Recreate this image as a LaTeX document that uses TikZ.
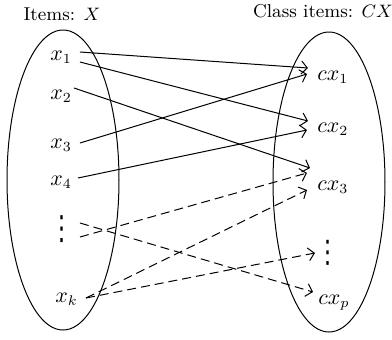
\documentclass[tikz,border=0pt]{standalone}
\usepackage{fontspec}
\usepackage{graphicx}
\newfontfamily\dotsfont{DejaVu Sans}
\usetikzlibrary{arrows.meta,shapes.geometric}
\begin{document}
\begin{tikzpicture}[x=0.5pt,y=-0.5pt,
  setell/.style={draw, ellipse, minimum width=56pt, minimum height=150pt, inner sep=0pt, line width=0.5pt},
  lab/.style={font=\fontsize{9.3}{11}\selectfont, inner sep=0pt},
  item/.style={font=\fontsize{10.5}{12}\selectfont, inner sep=0pt, anchor=base west},
  dotcol/.style={font=\dotsfont\fontsize{11.5}{14}\selectfont, inner sep=0pt, anchor=center},
  link/.style={line width=0.5pt, -{Straight Barb[length=3pt,width=6.5pt]}},
  dlink/.style={link, dash pattern=on 4.5pt off 2.5pt}
]
\useasboundingbox (0,0) rectangle (392,339);
% sets
\node[setell] (X) at (63,180) {};
\node[setell] (CX) at (329,182) {};
\node[lab] (lX) at (62,14) {Items: $X$};
\node[lab] (lCX) at (323,11) {Class items: $CX$};
% left items
\node[item] (x1) at (50,60) {$x_1$};
\node[item] (x2) at (50,99) {$x_2$};
\node[item] (x3) at (50,148) {$x_3$};
\node[item] (x4) at (50,185) {$x_4$};
\node[dotcol] (ldots) at (62,229) {\scalebox{1}[1.45]{⋮}};
\node[item] (xk) at (55,302) {$x_k$};
% right items
\node[item] (cx1) at (317,80) {$cx_1$};
\node[item] (cx2) at (317,132) {$cx_2$};
\node[item] (cx3) at (317,190) {$cx_3$};
\node[dotcol] (rdots) at (328,253) {\scalebox{1}[1.35]{⋮}};
\node[item] (cxp) at (318,304) {$cx_p$};
% connector ends
\coordinate (s1a) at (80,52);
\coordinate (s1b) at (80,62);
\coordinate (s2) at (74,88);
\coordinate (s3) at (80,143);
\coordinate (s4) at (78,178);
\coordinate (sdu) at (80,223);
\coordinate (sdl) at (80,237);
\coordinate (sk) at (86,298);
\coordinate (t1a) at (308,68);
\coordinate (t1b) at (307,74);
\coordinate (t2a) at (308,121);
\coordinate (t2b) at (307,130);
\coordinate (t3a) at (310,168);
\coordinate (t3b) at (307,173);
\coordinate (t3c) at (307,190);
\coordinate (tdots) at (315,253);
\coordinate (tp) at (313,292);
% solid connectors
\draw[link] (s1a) -- (t1a);
\draw[link] (s1b) -- (t2a);
\draw[link] (s2) -- (t3a);
\draw[link] (s3) -- (t1b);
\draw[link] (s4) -- (t2b);
% dashed connectors
\draw[dlink] (sdu) -- (tp);
\draw[dlink] (sdl) -- (t3b);
\draw[dlink] (sk) -- (t3c);
\draw[dlink] (sk) -- (tdots);
\end{tikzpicture}
\end{document}
